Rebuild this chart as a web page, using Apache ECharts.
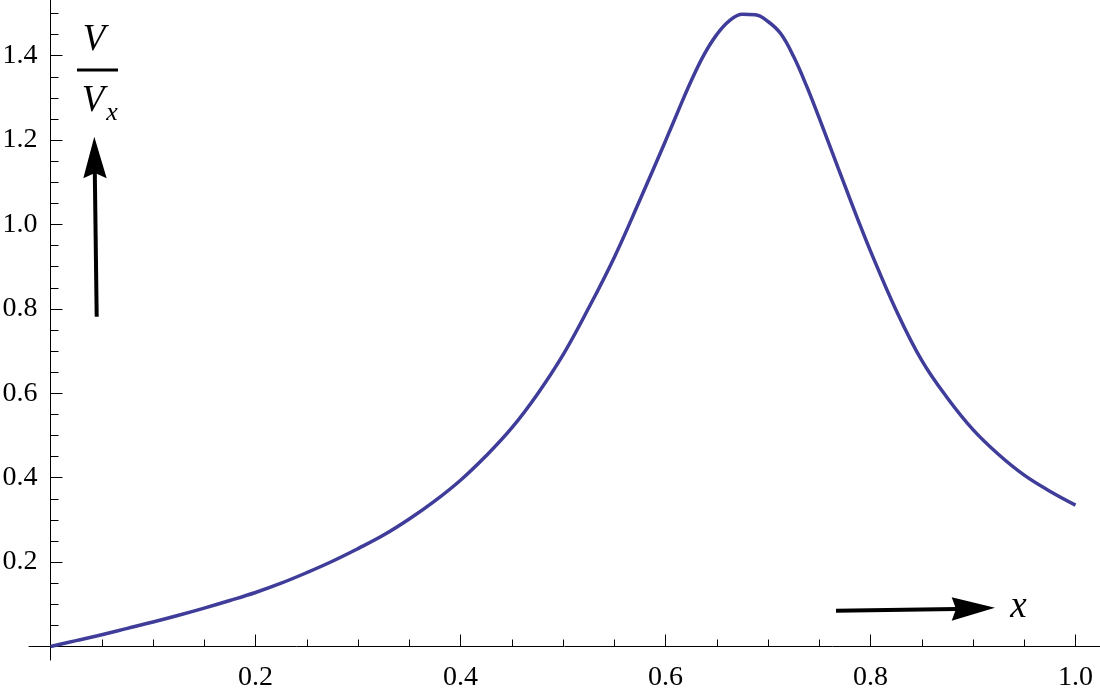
<!DOCTYPE html>
<html>
<head>
<meta charset="utf-8">
<script src="https://cdn.jsdelivr.net/npm/echarts@6/dist/echarts.min.js"></script>
<style>
  html, body { margin: 0; padding: 0; background: #fff; }
  #chart { width: 1100px; height: 700px; }
</style>
</head>
<body>
<div id="chart"></div>
<script>
  // x positions and V/Vx values
  var xValues = [0, 0.025, 0.05, 0.075, 0.1, 0.125, 0.15, 0.175, 0.2, 0.225, 0.25, 0.275,
    0.3, 0.325, 0.35, 0.375, 0.4, 0.425, 0.45, 0.475, 0.5, 0.525, 0.55, 0.575, 0.6,
    0.6125, 0.625, 0.6375, 0.65, 0.6625, 0.675, 0.6875, 0.7, 0.7125, 0.725, 0.7375,
    0.75, 0.7625, 0.775, 0.7875, 0.8, 0.825, 0.85, 0.875, 0.9, 0.925, 0.95, 0.975, 1.0]
  var vRatio = [0, 0.014, 0.028, 0.043, 0.058, 0.074, 0.091, 0.109, 0.128, 0.150, 0.175, 0.202,
    0.232, 0.264, 0.302, 0.345, 0.394, 0.452, 0.518, 0.598, 0.691, 0.802, 0.922, 1.058, 1.198,
    1.270, 1.340, 1.402, 1.450, 1.483, 1.498, 1.497, 1.481, 1.452, 1.398, 1.329,
    1.252, 1.172, 1.092, 1.013, 0.937, 0.797, 0.678, 0.589, 0.514, 0.455, 0.406, 0.368, 0.335]
  var xTickStep = 0.2
  var yTickStep = 0.2

  // pixel layout of the origin and scale (px per unit)
  var X0 = 50.5, Y0 = 646.5, SX = 1025, SY = 422
  var W = 1100, H = 700
  var axisLeft = 29, axisBottom = 660

  var pts = xValues.map(function (x, i) { return [x, vRatio[i]] })
  var serif = '"Liberation Serif", "Times New Roman", serif'

  var chart = echarts.init(document.getElementById('chart'))
  var option = {
    backgroundColor: '#fff',
    animation: false,
    grid: [
      // axis lines only, running a bit past the origin
      { left: axisLeft, top: 0, width: W - axisLeft, height: axisBottom, outerBoundsMode: 'none' },
      // ticks, labels and the curve (extends past the window on purpose)
      { left: X0, top: Y0 - 1.6 * SY, width: 1.2 * SX, height: 1.6 * SY, outerBoundsMode: 'none' }
    ],
    xAxis: [
      {
        type: 'value', gridIndex: 0,
        min: (axisLeft - X0) / SX, max: (W - X0) / SX,
        axisLine: { onZero: true, lineStyle: { color: '#000', width: 1 } },
        axisTick: { show: false }, axisLabel: { show: false }, splitLine: { show: false }
      },
      {
        type: 'value', gridIndex: 1, min: 0, max: 1.2, interval: xTickStep,
        axisLine: { show: false, onZero: false },
        axisTick: { show: true, inside: true, length: 12, lineStyle: { color: '#000', width: 1 } },
        minorTick: { show: true, splitNumber: 4, length: 7, lineStyle: { color: '#000', width: 1 } },
        axisLabel: {
          showMinLabel: false, margin: 17, color: '#000', fontSize: 28, fontFamily: serif,
          formatter: function (v) { return v.toFixed(1) }
        },
        splitLine: { show: false }
      }
    ],
    yAxis: [
      {
        type: 'value', gridIndex: 0,
        min: -(axisBottom - Y0) / SY, max: Y0 / SY,
        axisLine: { onZero: true, lineStyle: { color: '#000', width: 1 } },
        axisTick: { show: false }, axisLabel: { show: false }, splitLine: { show: false }
      },
      {
        type: 'value', gridIndex: 1, min: 0, max: 1.6, interval: yTickStep,
        axisLine: { show: false, onZero: false },
        axisTick: { show: true, inside: true, length: 12, lineStyle: { color: '#000', width: 1 } },
        minorTick: { show: true, splitNumber: 4, length: 8, lineStyle: { color: '#000', width: 1 } },
        axisLabel: {
          showMinLabel: false, margin: 13, color: '#000', fontSize: 28, fontFamily: serif,
          formatter: function (v) { return v.toFixed(1) }
        },
        splitLine: { show: false }
      }
    ],
    graphic: [
      // V / V_x label with up arrow
      { type: 'text', x: 94, y: 40, style: { text: 'V', font: 'italic 37px ' + serif, fill: '#000', align: 'center', verticalAlign: 'middle' } },
      { type: 'rect', shape: { x: 77, y: 68.5, width: 41, height: 3 }, style: { fill: '#000' } },
      { type: 'text', x: 93, y: 101, style: { text: 'V', font: 'italic 37px ' + serif, fill: '#000', align: 'center', verticalAlign: 'middle' } },
      { type: 'text', x: 112, y: 113, style: { text: 'x', font: 'italic 26px ' + serif, fill: '#000', align: 'center', verticalAlign: 'middle' } },
      { type: 'line', shape: { x1: 96.7, y1: 316.7, x2: 94.8, y2: 172 }, style: { stroke: '#000', lineWidth: 4 } },
      { type: 'polygon', shape: { points: [[94.3, 136.7], [106.7, 178.3], [95, 173], [83.3, 178.3]] }, style: { fill: '#000' } },
      // x label with right arrow
      { type: 'line', shape: { x1: 836, y1: 610.7, x2: 956, y2: 609 }, style: { stroke: '#000', lineWidth: 4 } },
      { type: 'polygon', shape: { points: [[995, 607.7], [951.7, 620.7], [956, 609], [951.7, 597.3]] }, style: { fill: '#000' } },
      { type: 'text', x: 1018.5, y: 607.5, style: { text: 'x', font: 'italic 37px ' + serif, fill: '#000', align: 'center', verticalAlign: 'middle' } }
    ],
    series: [
      {
        type: 'line',
        xAxisIndex: 1,
        yAxisIndex: 1,
        data: pts,
        smooth: 0.4,
        showSymbol: false,
        lineStyle: { color: '#3f3d99', width: 3.5 }
      }
    ]
  }
  chart.setOption(option)
  window.addEventListener('resize', function () {
    chart.resize()
  })
</script>
</body>
</html>
